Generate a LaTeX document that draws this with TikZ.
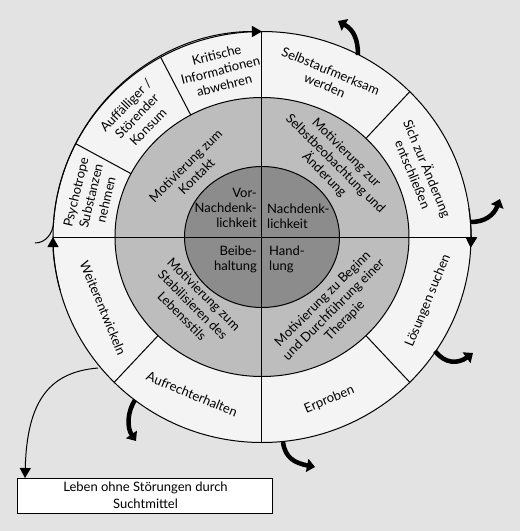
\documentclass[tikz,border=0pt]{standalone}
\usepackage{fontspec}
\setmainfont{Lato}
\usetikzlibrary{arrows.meta}
\definecolor{bgc}{HTML}{E3E3E3}
\definecolor{ringc}{HTML}{F4F4F4}
\definecolor{midc}{HTML}{BDBDBD}
\definecolor{innc}{HTML}{8C8C8C}
\begin{document}
\begin{tikzpicture}[x=1pt,y=1pt,
  lbl/.style={font=\fontsize{13}{15.5}\selectfont, align=center, inner sep=0pt, text=black},
  ilbl/.style={font=\fontsize{13}{15}\selectfont, inner sep=0pt, text=black},
  edge/.style={line width=1pt, draw=black},
  thin/.style={line width=1pt, -{Triangle[length=10pt,width=11pt]}},
  thick/.style={line width=4.5pt, -{Triangle[length=8pt,width=13pt]}}]
\fill[bgc] (-262,-294) rectangle (258,237);
\useasboundingbox (-262,-294) rectangle (258,237);
% rings
\filldraw[fill=ringc, edge] (0,0) ellipse[x radius=209, y radius=205.5];
\filldraw[fill=midc, edge] (0,0) ellipse[x radius=147, y radius=139.5];
\filldraw[fill=innc, edge] (0,0) ellipse[x radius=77.5, y radius=70.5];
% axes
\draw[edge] (-209,0) -- (215,0);
\draw[edge] (0,205.5) -- (0,-205.5);
% sector dividers in outer ring
\foreach \a in {119,153,45,-45,-135}
  \draw[edge] ({147*cos(\a)},{139.5*sin(\a)}) -- ({209*cos(\a)},{205.5*sin(\a)});
% outer ring texts
\node[lbl, rotate=14.5] (t1) at (104:172) {Kritische\\Informationen\\abwehren};
\node[lbl, rotate=46] (t2) at (136:174) {Auffälliger /\\Störender\\Konsum};
\node[lbl, rotate=76.5] (t3) at (166.5:176) {Psychotrope\\Substanzen\\nehmen};
\node[lbl, rotate=-22.5] (t4) at (67.5:172) {Selbstaufmerksam\\werden};
\node[lbl, rotate=-67.5] (t5) at (22.5:172) {Sich zur Änderung\\entschließen};
\node[lbl, rotate=67.5] (t6) at (-21:178) {Lösungen suchen};
\node[lbl, rotate=22.5] (t7) at (-67.5:176) {Erproben};
\node[lbl, rotate=-22.5] (t8) at (-114:172) {Aufrechterhalten};
\node[lbl, rotate=-67.5] (t9) at (-156:174) {Weiterentwickeln};
% middle ring texts
\node[lbl, rotate=45] (m1) at (-71,66) {Motivierung zum\\Kontakt};
\node[lbl, rotate=-45] (m2) at (73,73) {Motivierung zur\\Selbstbeobachtung und\\Änderung};
\node[lbl, rotate=-45] (m3) at (-69,-68) {Motivierung zum\\Stabilisieren des\\Lebensstils};
\node[lbl, rotate=45] (m4) at (72,-73) {Motivierung zu Beginn\\und Durchführung einer\\Therapie};
% inner texts
\node[ilbl, anchor=east, align=right] (i1) at (-5,29) {Vor-\\Nachdenk-\\lichkeit};
\node[ilbl, anchor=west, align=left] (i2) at (5,21) {Nachdenk-\\lichkeit};
\node[ilbl, anchor=east, align=right] (i3) at (-5,-22) {Beibe-\\haltung};
\node[ilbl, anchor=west, align=left] (i4) at (7,-22) {Hand-\\lung};
% outer flow arrows
\draw[line width=1pt] (-227,-6) .. controls (-216,-6) and (-209,4) .. ({209*cos(176)},{205.5*sin(176)});
\draw[thin] ({209*cos(176)},{205.5*sin(176)}) arc[start angle=176, end angle=90, x radius=209, y radius=205.5];
\draw[thin] ({209*cos(195)},{205.5*sin(195)}) arc[start angle=195, end angle=180, x radius=209, y radius=205.5];
\draw[thin] ({209*cos(8)},{205.5*sin(8)}) arc[start angle=8, end angle=-3, x radius=209, y radius=205.5];
% thick arrows
\coordinate (a1s) at (96,182);  \coordinate (a1e) at (76,216);
\coordinate (a2s) at (209,15);  \coordinate (a2e) at (238,38);
\coordinate (a3s) at (173,-114); \coordinate (a3e) at (211,-116);
\coordinate (a4s) at (21,-205); \coordinate (a4e) at (53,-230);
\coordinate (a5s) at (-127,-163); \coordinate (a5e) at (-126,-204);
\draw[thick] (a1s) .. controls (96,197) and (92,207) .. (a1e);
\draw[thick] (a2s) .. controls (223,15) and (232,22) .. (a2e);
\draw[thick] (a3s) .. controls (183,-127) and (196,-127) .. (a3e);
\draw[thick] (a4s) .. controls (23,-221) and (33,-226) .. (a4e);
\draw[thick] (a5s) .. controls (-135,-175) and (-135,-191) .. (a5e);
% goal box
\node[draw=black, line width=1pt, fill=white, minimum width=255pt, minimum height=35pt, inner sep=0pt,
  font=\fontsize{13}{17.5}\selectfont, align=center] (goal) at (-116.5,-258.5) {Leben ohne Störungen durch\\Suchtmittel};
\coordinate (ws) at (-164,-131);
\coordinate (we) at (-237,-241);
\draw[thin] (ws) .. controls (-212,-135) and (-235,-163) .. (we);
\end{tikzpicture}
\end{document}
